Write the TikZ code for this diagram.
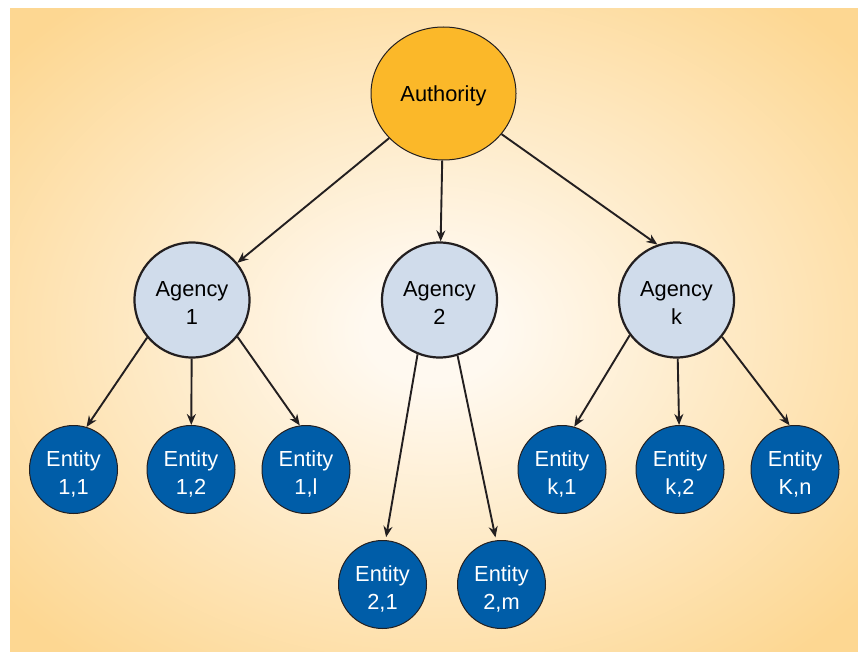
\documentclass[tikz,border=0pt]{standalone}
\usepackage{fontspec}
\setmainfont{Liberation Sans}
\usetikzlibrary{arrows.meta,shapes.geometric}
\definecolor{bgin}{HTML}{FFF9F0}
\definecolor{bgout}{HTML}{FDD792}
\definecolor{authfill}{HTML}{FBB829}
\definecolor{agfill}{HTML}{D0DCEB}
\definecolor{entfill}{HTML}{005DA8}
\definecolor{edgec}{HTML}{231F20}
\pgfdeclareradialshading{bgshade}{\pgfpoint{0bp}{0bp}}{color(0bp)=(bgin); color(4bp)=(bgin); color(33bp)=(bgout); color(50bp)=(bgout)}
\begin{document}
\begin{tikzpicture}[x=1pt,y=-1pt,
  lbl/.style={font=\fontsize{21.8pt}{28pt}\selectfont, align=center, inner sep=0pt},
  authnode/.style={lbl, ellipse, draw=edgec, line width=1pt, fill=authfill, minimum width=145pt, minimum height=133pt, text height=21.5pt},
  agnode/.style={lbl, circle, draw=edgec, line width=2.2pt, fill=agfill, minimum size=115pt, text height=48.5pt},
  entnode/.style={lbl, circle, draw=edgec, line width=1pt, fill=entfill, text=white, minimum size=88pt, text height=53pt},
  arr/.style={draw=edgec, line width=1.9pt, -{Stealth[length=11pt,width=9pt]}}]
\useasboundingbox (0,0) rectangle (858,652);
\shade[shading=bgshade] (10,9) rectangle (858,652);
\node[authnode] (auth) at (443.5,93.5) {Authority};
\node[agnode] (a1) at (192,300) {Agency\\1};
\node[agnode] (a2) at (439.5,300) {Agency\\2};
\node[agnode] (ak) at (676.5,300) {Agency\\k};
\node[entnode] (e11) at (73.5,469.5) {Entity\\1,1};
\node[entnode] (e12) at (191,469.5) {Entity\\1,2};
\node[entnode] (e1l) at (306,469.5) {Entity\\1,l};
\node[entnode] (e21) at (382.5,584.5) {Entity\\2,1};
\node[entnode] (e2m) at (501.5,584.5) {Entity\\2,m};
\node[entnode] (ek1) at (562,469.5) {Entity\\k,1};
\node[entnode] (ek2) at (680,469.5) {Entity\\k,2};
\node[entnode] (ekn) at (795,469.5) {Entity\\K,n};
\draw[arr] (auth) -- (a1);
\draw[arr] (auth) -- (a2);
\draw[arr] (auth.-35) -- (ak.109);
\draw[arr] (a1.220) -- (e11.73);
\draw[arr] (a1) -- (e12);
\draw[arr] (a1.321) -- (e1l.98);
\draw[arr, shorten >=3pt] (a2.248) -- (e21.86);
\draw[arr, shorten >=3pt] (a2.288) -- (e2m.97);
\draw[arr] (ak.217) -- (ek1.74);
\draw[arr] (ak) -- (ek2);
\draw[arr] (ak.321) -- (ekn.97);
\end{tikzpicture}
\end{document}
